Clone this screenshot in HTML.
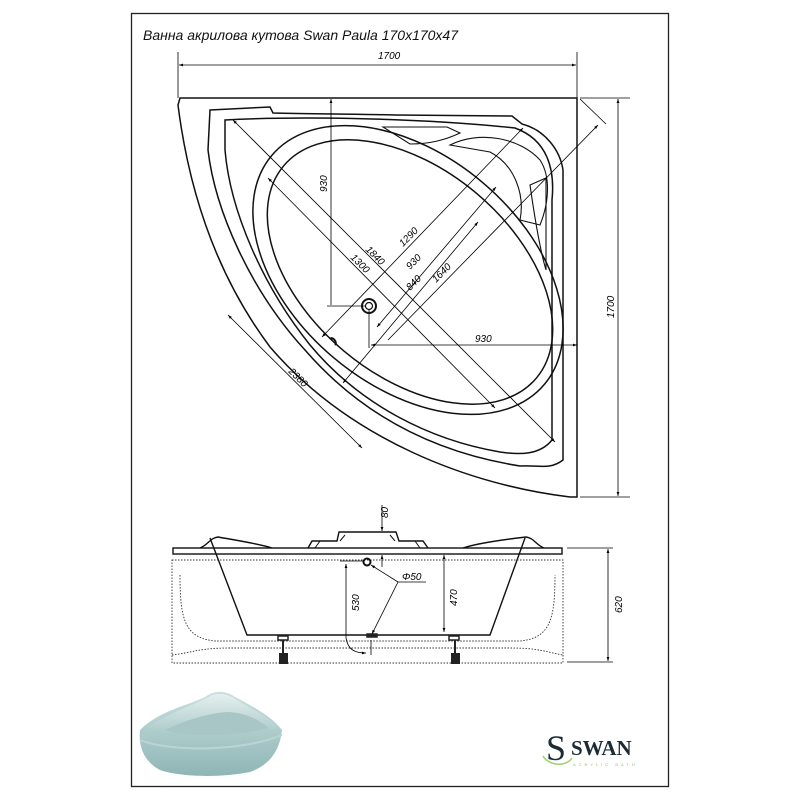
<!DOCTYPE html>
<html><head><meta charset="utf-8"><style>
html,body{margin:0;padding:0;background:#fff}
svg{display:block}
text{font-family:"Liberation Sans",sans-serif}
.serif{font-family:"Liberation Serif",serif}
</style></head><body>
<svg width="800" height="800" viewBox="0 0 800 800" xmlns="http://www.w3.org/2000/svg">
<defs>
<marker id="a" viewBox="0 0 10 10" refX="10" refY="5" markerWidth="7" markerHeight="5" orient="auto-start-reverse"><path d="M0,1.5L10,5L0,8.5z" fill="#000"/></marker>
<linearGradient id="g1" x1="0" y1="0" x2="0" y2="1"><stop offset="0" stop-color="#c9e0e0"/><stop offset="1" stop-color="#8fb5b5"/></linearGradient>
<linearGradient id="g2" x1="0" y1="0" x2="0" y2="1"><stop offset="0" stop-color="#e4f0ef"/><stop offset="1" stop-color="#a9c9c8"/></linearGradient>
</defs>
<rect x="131.5" y="13.5" width="537" height="773" fill="none" stroke="#222" stroke-width="1.3"/>
<text x="143" y="40" font-size="14" font-style="italic" fill="#111">Ванна акрилова кутова Swan Paula 170x170x47</text>

<g stroke="#000" stroke-width="0.8" fill="none">
<line x1="178" y1="52" x2="178" y2="98"/><line x1="577" y1="52" x2="577" y2="98"/>
<line x1="179" y1="65" x2="576" y2="65" marker-start="url(#a)" marker-end="url(#a)"/>
<line x1="580" y1="98" x2="630" y2="98"/><line x1="580" y1="497" x2="630" y2="497"/>
<line x1="618" y1="99" x2="618" y2="496" marker-start="url(#a)" marker-end="url(#a)"/>
<line x1="580" y1="99" x2="606" y2="124"/>
</g>
<text x="378" y="59" font-size="10" font-style="italic">1700</text>
<text transform="translate(614,318) rotate(-90)" font-size="10" font-style="italic">1700</text>

<g stroke="#111" stroke-width="1.5" fill="none">
<path d="M180,98 L577,98 L577,497 L570,497 C470,485 350,440 270,347 C220,280 190,200 178,105 Z"/>
<path d="M210,110 L270,107 L273,113 C310,114 360,114 395,115 L512,116 L522,124 C545,130 560,150 563,170 L563,460 C550,470 540,465 520,466 C450,455 370,425 305,350 C250,290 215,210 208,150 Z"/>
<path d="M225,120 C300,116 420,118 515,128 C548,140 555,170 552,200 L552,440 C540,455 520,455 500,452 C430,440 360,405 310,345 C262,285 230,210 225,150 Z"/>
<ellipse cx="408" cy="270" rx="178" ry="115" transform="rotate(40 408 270)"/>
<ellipse cx="410" cy="272" rx="165" ry="103" transform="rotate(40 410 272)"/>
<path d="M383,127 L447,127 L460,133 C445,140 430,144 410,144 Z" stroke-width="1.1"/>
<path d="M530,185 L546,178 L546,270 C540,250 535,220 530,185 Z" stroke-width="1.1"/>
<path d="M450,145 C480,130 520,138 540,160 C550,175 550,200 540,225 L520,220 C525,195 515,165 490,152 Z" stroke-width="1.1"/>
</g>
<g fill="none" stroke="#000" stroke-width="0.8">
<line x1="331" y1="99" x2="331" y2="305" marker-start="url(#a)"/>
<line x1="327" y1="306" x2="366" y2="306"/>
<line x1="371" y1="345" x2="577" y2="345" marker-start="url(#a)" marker-end="url(#a)"/>
<line x1="369" y1="310" x2="369" y2="348"/>
<line x1="228" y1="315" x2="362" y2="448" marker-start="url(#a)" marker-end="url(#a)"/>
<line x1="233" y1="120" x2="555" y2="442" marker-start="url(#a)" marker-end="url(#a)"/>
<line x1="268" y1="178" x2="495" y2="408" marker-start="url(#a)" marker-end="url(#a)"/>
<line x1="523" y1="128" x2="322" y2="337" marker-start="url(#a)" marker-end="url(#a)"/>
<line x1="496" y1="187" x2="377" y2="327" marker-start="url(#a)" marker-end="url(#a)"/>
<line x1="478" y1="222" x2="343" y2="383" marker-start="url(#a)" marker-end="url(#a)"/>
<line x1="598" y1="125" x2="388" y2="340" marker-start="url(#a)"/>
</g>
<circle cx="369" cy="306" r="7" fill="none" stroke="#111" stroke-width="2"/>
<circle cx="369" cy="306" r="3.5" fill="none" stroke="#111" stroke-width="1.2"/>
<path d="M330,339 C332,336 338,342 335,345" stroke="#111" stroke-width="2" fill="none"/>
<g font-size="10" font-style="italic">
<text transform="translate(327,192) rotate(-90)">930</text>
<text x="475" y="342">930</text>
<text transform="translate(288,372) rotate(45)">2380</text>
<text transform="translate(365,250) rotate(45)">1840</text>
<text transform="translate(350,258) rotate(45)">1300</text>
<text transform="translate(403,247) rotate(-45)">1290</text>
<text transform="translate(410,270) rotate(-45)">930</text>
<text transform="translate(410,291) rotate(-45)">840</text>
<text transform="translate(436,283) rotate(-45)">1640</text>
</g>

<g stroke="#111" stroke-width="1.4" fill="none">
<rect x="173" y="548" width="389" height="6"/>
<path d="M200,548 C208,545 210,538 218,537 C235,540 260,544 272,548"/>
<path d="M463,548 C475,544 500,540 526,537 C534,538 536,545 544,548"/>
<path d="M308,548 L312,541 L337,541 L339,532 L396,532 L399,541 L423,541 L428,548"/>
<path d="M315,548 L320,541 M420,548 L415,541 M340,541 L345,535 M395,541 L390,535" stroke-width="1"/>
<path d="M210,538 L247,635 L490,635 L525,538"/>
</g>
<g stroke="#333" stroke-width="0.9" fill="none" stroke-dasharray="1.5,1.5">
<rect x="172" y="560" width="391" height="103"/>
<path d="M180,575 C180,620 185,638 215,641 L520,641 C550,638 555,620 555,575"/>
<path d="M172,655 C195,652 200,648 230,648 L510,648 C540,648 545,652 563,655"/>
</g>
<g stroke="#222" stroke-width="1.5" fill="#fff">
<rect x="278" y="636" width="10" height="4"/><rect x="449" y="636" width="10" height="4"/>
<rect x="367" y="634" width="10" height="3" fill="#222"/>
</g>
<g stroke="#222" stroke-width="2" fill="#222">
<line x1="283" y1="640" x2="283" y2="654"/><rect x="280" y="654" width="7" height="9"/>
<line x1="455" y1="640" x2="455" y2="654"/><rect x="452" y="654" width="7" height="9"/>
</g>
<circle cx="367" cy="562" r="3.5" fill="none" stroke="#111" stroke-width="2"/>
<g stroke="#000" stroke-width="0.8" fill="none">
<line x1="382" y1="505" x2="382" y2="531" marker-end="url(#a)"/>
<line x1="382" y1="567" x2="382" y2="555" marker-end="url(#a)"/>
<line x1="567" y1="548" x2="613" y2="548"/><line x1="567" y1="662" x2="613" y2="662"/>
<line x1="608" y1="549" x2="608" y2="661" marker-start="url(#a)" marker-end="url(#a)"/>
<line x1="444" y1="555" x2="444" y2="632" marker-start="url(#a)" marker-end="url(#a)"/>
<line x1="340" y1="561" x2="364" y2="561"/>
<line x1="346" y1="564" x2="346" y2="638" marker-start="url(#a)"/>
<path d="M346,638 C348,650 355,653 366,653" marker-end="url(#a)"/>
<line x1="371" y1="640" x2="371" y2="655"/>
<line x1="398" y1="582" x2="426" y2="582"/>
<line x1="398" y1="582" x2="371" y2="565" marker-end="url(#a)"/>
<line x1="398" y1="582" x2="372" y2="634" marker-end="url(#a)"/>
</g>
<g font-size="10" font-style="italic">
<text transform="translate(388,518) rotate(-90)">80</text>
<text x="402" y="580">Φ50</text>
<text transform="translate(457,606) rotate(-90)">470</text>
<text transform="translate(359,611) rotate(-90)">530</text>
<text transform="translate(622,613) rotate(-90)">620</text>
</g>

<g>
<path d="M140,730 C160,710 190,705 205,697 C215,690 225,690 235,697 C250,705 270,715 282,730 C280,750 270,765 250,772 C220,778 180,777 160,770 C145,762 138,748 140,730 Z" fill="url(#g1)"/>
<path d="M146,728 C170,712 200,703 212,695 C222,692 230,695 240,702 C258,712 270,718 278,728 C250,735 180,740 146,728 Z" fill="url(#g2)"/>
<path d="M165,730 C190,718 215,712 230,712 C250,714 262,722 268,728 C240,736 190,738 165,730 Z" fill="#a7c6c5"/>
<path d="M140,740 C170,752 240,752 282,735" stroke="#b9d4d3" stroke-width="2" fill="none"/>
</g>

<text x="546" y="760" class="serif" font-size="36" fill="#1c2a35">S</text>
<path d="M543,756 C548,765 565,768 572,758" stroke="#9bd36a" stroke-width="1.5" fill="none"/>
<text x="571" y="755" class="serif" font-weight="bold" font-size="21" fill="#1c2a35">SWAN</text>
<text x="573" y="766" font-size="4" letter-spacing="3" fill="#8cc860">ACRYLIC BATH</text>
</svg>
</body></html>
